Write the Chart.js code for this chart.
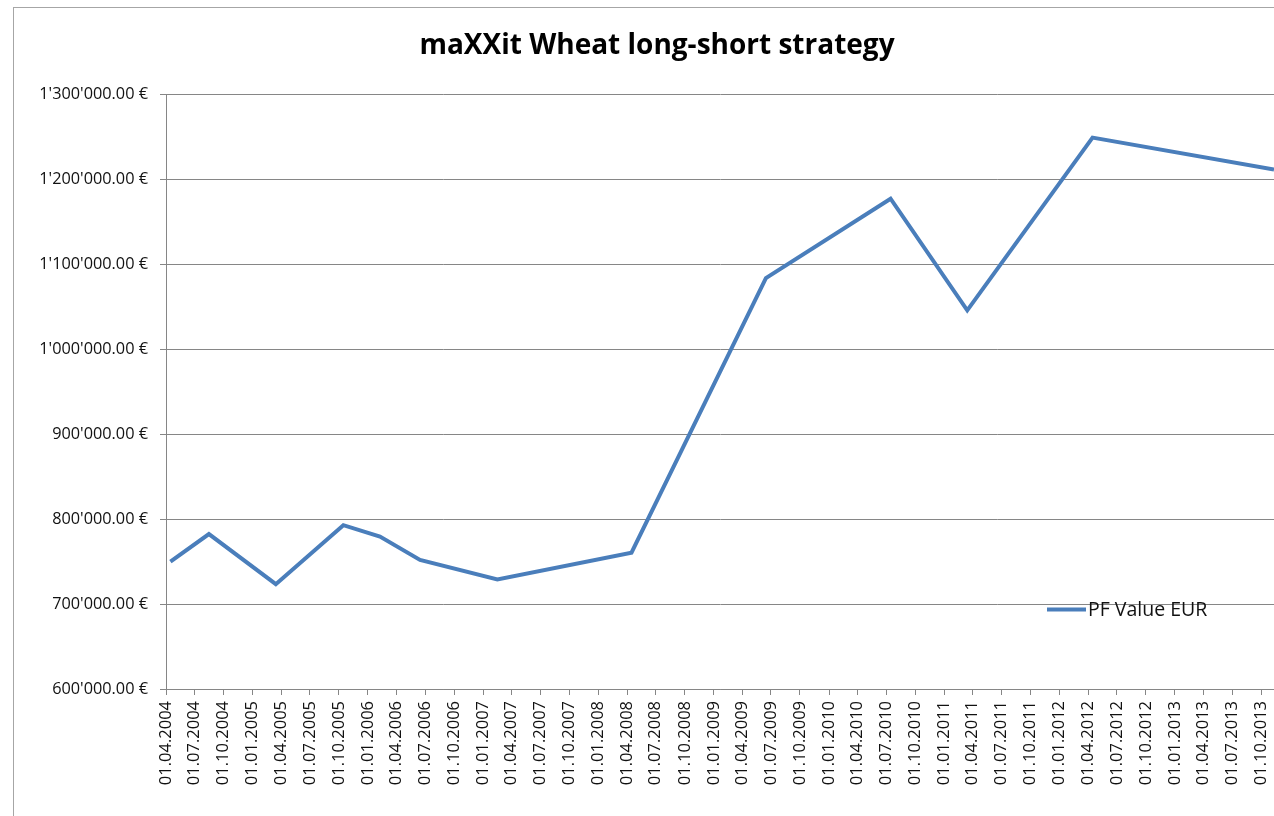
<!DOCTYPE html>
<html>
<head>
<meta charset="utf-8">
<script src="https://cdn.jsdelivr.net/npm/chart.js@4.4.0/dist/chart.umd.min.js"></script>
<style>
  html, body { margin: 0; padding: 0; background: #fff; overflow: hidden; }
  #frame { position: absolute; left: 13px; top: 7px; width: 1288px; height: 830px; border: 1px solid #a6a6a6; box-sizing: border-box; }
  #wrap { position: absolute; left: 0; top: 0; width: 1286px; height: 808px; }
</style>
</head>
<body>
<div id="frame"><div id="wrap"><canvas id="wheatChart"></canvas></div></div>
<script>
// quarterly axis labels (Excel date axis)
const tickLabels = [
  '01.04.2004', '01.07.2004', '01.10.2004', '01.01.2005', '01.04.2005', '01.07.2005',
  '01.10.2005', '01.01.2006', '01.04.2006', '01.07.2006', '01.10.2006', '01.01.2007',
  '01.04.2007', '01.07.2007', '01.10.2007', '01.01.2008', '01.04.2008', '01.07.2008',
  '01.10.2008', '01.01.2009', '01.04.2009', '01.07.2009', '01.10.2009', '01.01.2010',
  '01.04.2010', '01.07.2010', '01.10.2010', '01.01.2011', '01.04.2011', '01.07.2011',
  '01.10.2011', '01.01.2012', '01.04.2012', '01.07.2012', '01.10.2012', '01.01.2013',
  '01.04.2013', '01.07.2013', '01.10.2013'
];
// dates of the portfolio values
const pointDates = [
  '15.04.2004', '15.08.2004', '15.03.2005', '15.10.2005', '08.02.2006', '15.06.2006',
  '15.02.2007', '15.04.2008', '15.06.2009', '15.07.2010', '15.03.2011', '15.04.2012',
  '11.11.2013'
];
const pfValues = [
  750000, 782500, 723500, 793000, 779500, 752000,
  729000, 760500, 1084000, 1177500, 1046000, 1249500,
  1212000
];
const axisEnd = '11.11.2013';

function toDay(s) {
  const p = s.split('.');
  return Date.UTC(+p[2], +p[1] - 1, +p[0]) / 86400000;
}
function euro(v) {
  return String(v).replace(/\B(?=(\d{3})+(?!\d))/g, "'") + '.00 €';
}

const gridGrey = '#868686';
const lineBlue = '#4a7ebb';

// legend sits inside the plot, drawn by hand like Excel does it
const insideLegend = {
  id: 'insideLegend',
  afterDraw(chart) {
    const ctx = chart.ctx;
    const ds = chart.data.datasets[0];
    ctx.save();
    ctx.strokeStyle = ds.borderColor;
    ctx.lineWidth = 4;
    ctx.beginPath();
    ctx.moveTo(1033, 601.5);
    ctx.lineTo(1072, 601.5);
    ctx.stroke();
    ctx.fillStyle = '#111';
    ctx.font = '19.5px "Open Sans"';
    ctx.textBaseline = 'middle';
    ctx.fillText(ds.label, 1074, 602);
    ctx.restore();
  }
};

new Chart(document.getElementById('wheatChart'), {
  type: 'line',
  data: {
    datasets: [{
      label: 'PF Value EUR',
      data: pointDates.map((d, i) => ({ x: toDay(d), y: pfValues[i] })),
      borderColor: lineBlue,
      backgroundColor: lineBlue,
      borderWidth: 4,
      pointRadius: 0,
      tension: 0
    }]
  },
  options: {
    responsive: true,
    maintainAspectRatio: false,
    animation: false,
    layout: { padding: { left: 26, right: 26, top: 0, bottom: 0 } },
    plugins: {
      legend: { display: false },
      tooltip: { enabled: false },
      title: {
        display: true,
        text: 'maXXit Wheat long-short strategy',
        color: '#000',
        font: { family: 'Open Sans', size: 28, weight: 'bold' },
        padding: { top: 21, bottom: 32.1 }
      }
    },
    scales: {
      x: {
        type: 'linear',
        min: toDay(tickLabels[0]),
        max: toDay(axisEnd),
        afterBuildTicks: scale => {
          scale.ticks = tickLabels.map(l => ({ value: toDay(l) }));
        },
        afterFit: scale => { scale.height = 127; },
        grid: { drawOnChartArea: false, color: gridGrey, tickLength: 6 },
        border: { color: gridGrey },
        ticks: {
          autoSkip: false,
          minRotation: 90,
          maxRotation: 90,
          padding: 6,
          color: '#111',
          font: { family: 'Open Sans', size: 16.5 },
          callback: (v, i) => tickLabels[i]
        }
      },
      y: {
        min: 600000,
        max: 1300000,
        afterFit: scale => { scale.width = 126; },
        grid: { color: gridGrey, tickLength: 6 },
        border: { color: gridGrey },
        ticks: {
          stepSize: 100000,
          padding: 12,
          color: '#111',
          font: { family: 'Open Sans', size: 16.3 },
          callback: v => euro(v)
        }
      }
    }
  },
  plugins: [insideLegend]
});
</script>
</body>
</html>
